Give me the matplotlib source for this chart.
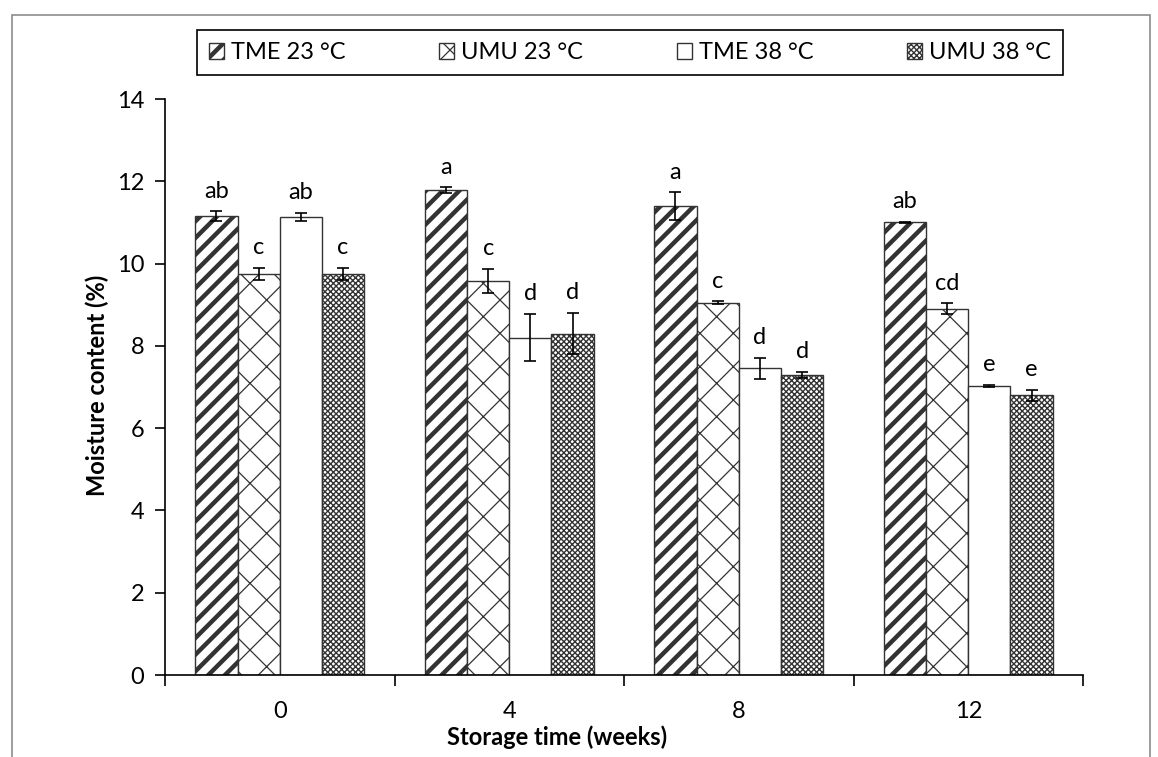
import numpy as np
import matplotlib
matplotlib.use('Agg')
import matplotlib.pyplot as plt
from matplotlib.patches import Rectangle

plt.rcParams['font.family'] = ['Lato', 'DejaVu Sans']

# Data
weeks = ['0', '4', '8', '12']
series_names = ['TME 23 °C', 'UMU 23 °C', 'TME 38 °C', 'UMU 38 °C']
tme23 = [11.15, 11.78, 11.40, 11.00]
umu23 = [9.75, 9.58, 9.05, 8.90]
tme38 = [11.13, 8.20, 7.45, 7.03]
umu38 = [9.75, 8.30, 7.30, 6.80]
tme23_err = [0.12, 0.07, 0.33, 0.02]
umu23_err = [0.15, 0.30, 0.03, 0.13]
tme38_err = [0.10, 0.57, 0.25, 0.02]
umu38_err = [0.15, 0.50, 0.07, 0.13]
tme23_lbl = ['ab', 'a', 'a', 'ab']
umu23_lbl = ['c', 'c', 'c', 'cd']
tme38_lbl = ['ab', 'd', 'd', 'e']
umu38_lbl = ['c', 'd', 'd', 'e']

values = [tme23, umu23, tme38, umu38]
errors = [tme23_err, umu23_err, tme38_err, umu38_err]
letters = [tme23_lbl, umu23_lbl, tme38_lbl, umu38_lbl]
hatches = ['//', 'x', '', 'xxxxxx']
hatch_lw = [3.2, 0.9, 1.0, 1.0]

W, H = 1158, 757
fig = plt.figure(figsize=(W / 100, H / 100), dpi=100)
ax = fig.add_axes([165 / W, 1 - 675 / H, (1083 - 165) / W, (675 - 99) / H])

# outer gray frame
fig.patches.append(Rectangle((12 / W, -0.05), (1150 - 12) / W, 1 - 15 / H + 0.05,
                             transform=fig.transFigure, fill=False,
                             edgecolor='#8c8c8c', linewidth=1.2))

x = np.arange(len(weeks))
bw = 0.184
offsets = (np.arange(4) - 1.5) * bw
handles = []
for i in range(4):
    bars = ax.bar(x + offsets[i], values[i], bw, color='white', edgecolor='#333333',
                  linewidth=1.0, hatch=hatches[i], label=series_names[i], zorder=2)
    for b in bars:
        if hasattr(b, 'set_hatch_linewidth'):
            b.set_hatch_linewidth(hatch_lw[i])
    handles.append(bars)
    ax.errorbar(x + offsets[i], values[i], yerr=errors[i], fmt='none', ecolor='black',
                elinewidth=1.2, capsize=4, capthick=1.2, zorder=3)
    for j in range(len(weeks)):
        ax.annotate(letters[i][j], (x[j] + offsets[i], values[i][j] + errors[i][j]),
                    xytext=(0, 7), textcoords='offset points', ha='center', va='bottom',
                    fontsize=17)

ax.set_xlim(-0.5, 3.5)
ax.set_ylim(0, 14)
ax.set_yticks(np.arange(0, 15, 2))
ax.tick_params(axis='y', labelsize=17, length=7, width=1.2, direction='out', pad=8)
ax.set_xticks(x)
ax.set_xticklabels(weeks)
ax.set_xticks(np.arange(-0.5, 4, 1), minor=True)
ax.tick_params(axis='x', which='major', length=0, labelsize=17, pad=19)
ax.tick_params(axis='x', which='minor', length=8, width=1.2, direction='out')
for s in ['top', 'right']:
    ax.spines[s].set_visible(False)
for s in ['left', 'bottom']:
    ax.spines[s].set_linewidth(1.2)

fig.text(557 / W, 1 - 737 / H, 'Storage time (weeks)', ha='center', va='center',
         fontsize=17, fontweight='bold')
fig.text(97 / W, 1 - 385 / H, 'Moisture content (%)', ha='center', va='center',
         rotation=90, fontsize=17, fontweight='bold')

leg = fig.legend(handles=handles, labels=series_names, loc='center', ncol=4, mode='expand',
                 bbox_to_anchor=(185 / W, 1 - 78 / H, (1075 - 185) / W, (78 - 27) / H),
                 fancybox=False, edgecolor='black', fontsize=17, handlelength=0.65,
                 handleheight=0.65, handletextpad=0.3, borderpad=0.5,
                 columnspacing=1.0)
leg.get_frame().set_linewidth(1.2)
leg.get_frame().set_alpha(1)
for p, lw in zip(leg.get_patches(), hatch_lw):
    if hasattr(p, 'set_hatch_linewidth'):
        p.set_hatch_linewidth(lw)

fig.savefig('out.png', dpi=100)
